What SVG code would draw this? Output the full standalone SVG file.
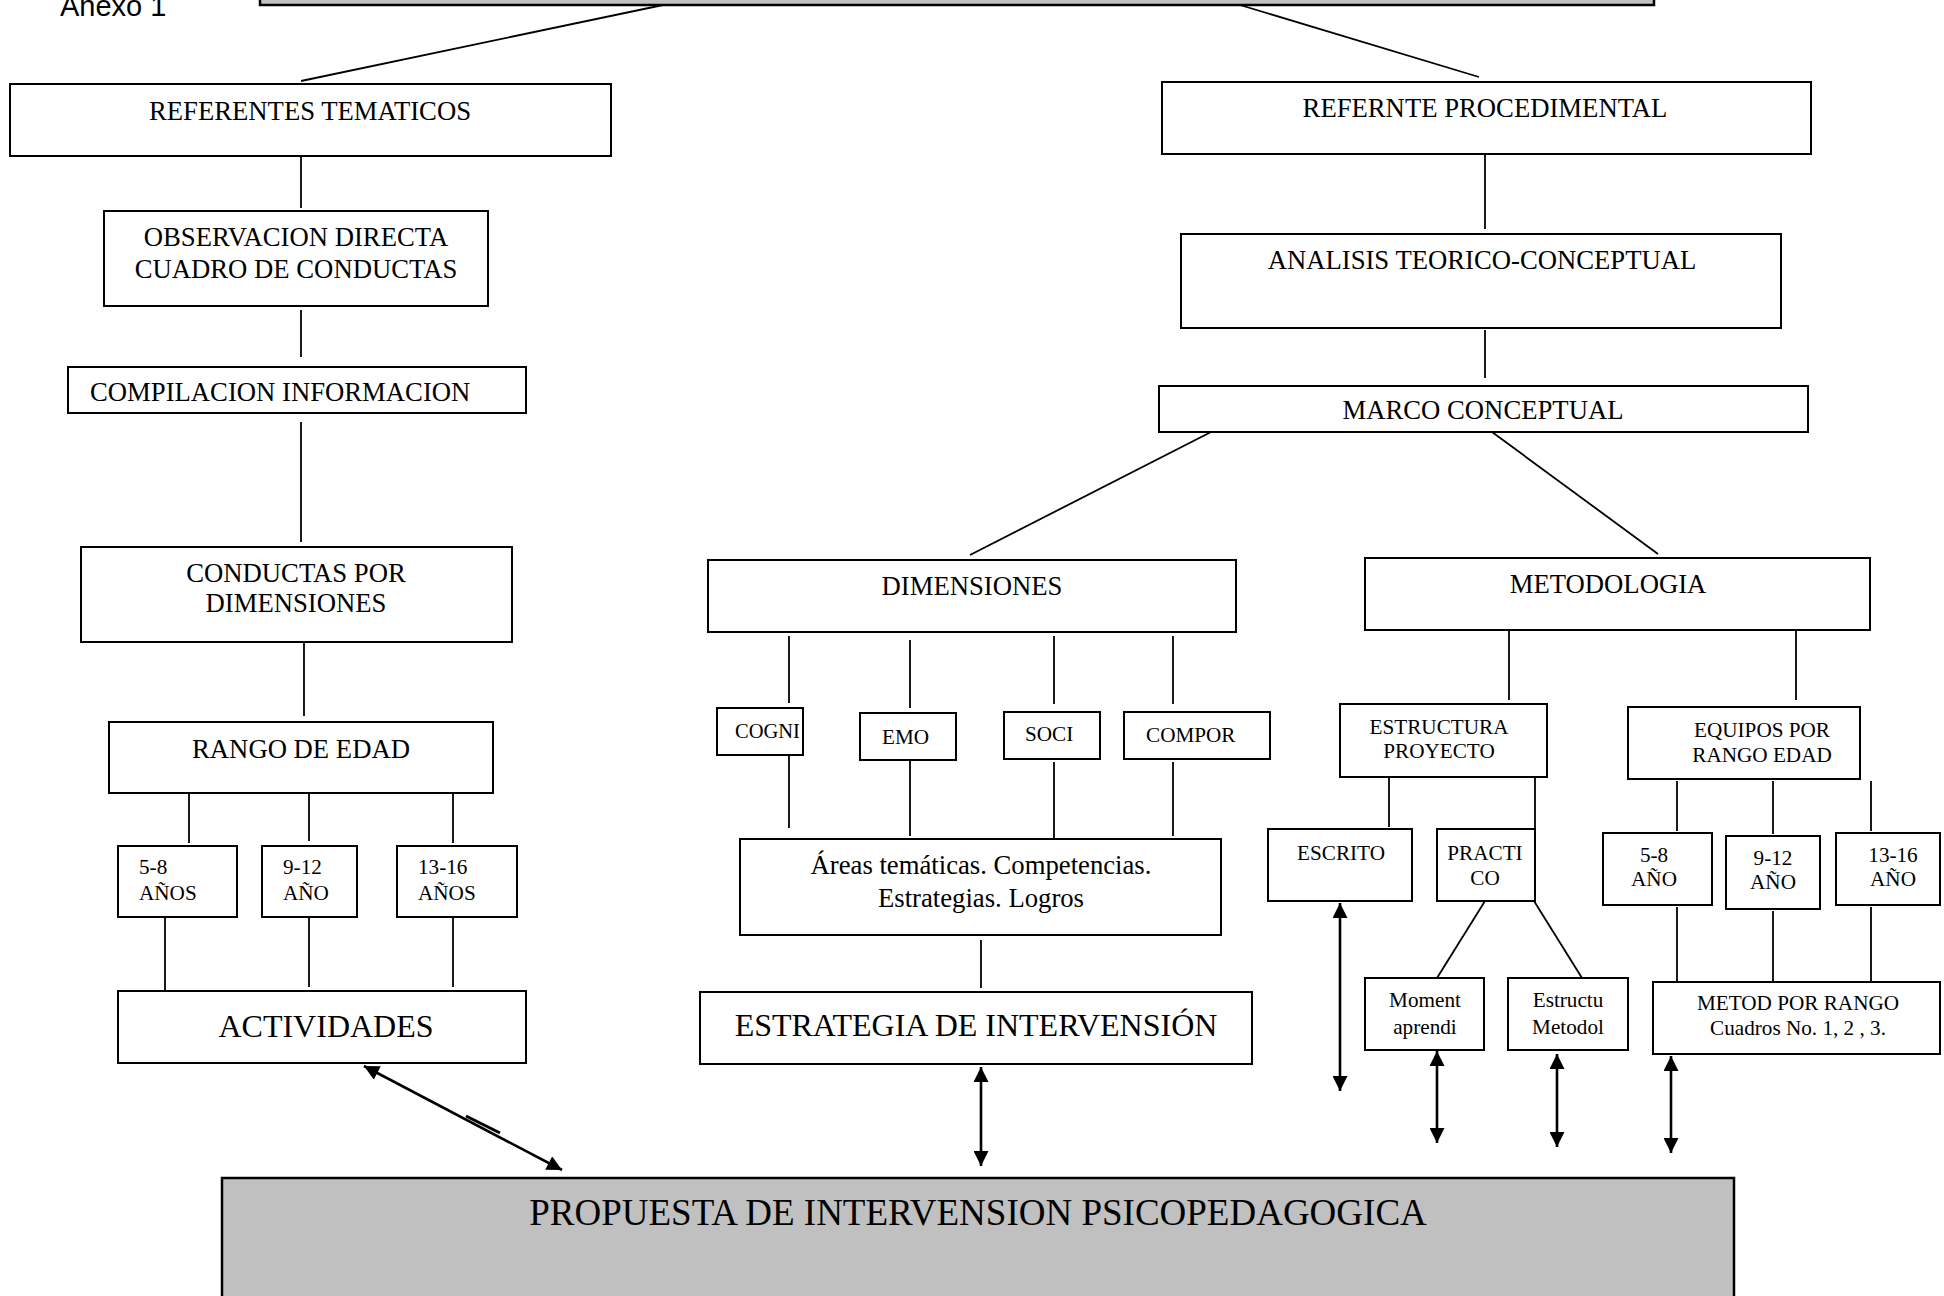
<svg xmlns="http://www.w3.org/2000/svg" width="1944" height="1296" viewBox="0 0 1944 1296">
<defs>
<style>
.b{fill:#fff;stroke:#000;stroke-width:2}
.g{fill:#c0c0c0;stroke:#000;stroke-width:2.5}
.t{font-family:"Liberation Serif","Times New Roman",serif;font-size:26.7px;fill:#000}
.s{font-family:"Liberation Serif","Times New Roman",serif;font-size:21.2px;fill:#000}
.c{text-anchor:middle}
.l{stroke:#000;stroke-width:1.8;fill:none}
.a{stroke:#000;stroke-width:2.6;fill:none;marker-start:url(#ah);marker-end:url(#ah)}
</style>
<marker id="ah" viewBox="0 0 10 10" refX="10" refY="5" markerWidth="16" markerHeight="15" markerUnits="userSpaceOnUse" orient="auto-start-reverse"><path d="M0,0 L10,5 L0,10 Z" fill="#000"/></marker>
</defs>

<text x="60" y="16" style="font-family:'Liberation Sans',Arial,sans-serif;font-size:29px">Anexo 1</text>

<g id="top"><rect class="g" x="260" y="-20" width="1394" height="25"/></g>

<g id="referentes"><rect class="b" x="10" y="84" width="601" height="72"/><text class="t c" x="310" y="120">REFERENTES TEMATICOS</text></g>
<g id="observacion"><rect class="b" x="104" y="211" width="384" height="95"/><text class="t c" x="296" y="246">OBSERVACION DIRECTA</text><text class="t c" x="296" y="278">CUADRO DE CONDUCTAS</text></g>
<g id="compilacion"><rect class="b" x="68" y="367" width="458" height="46"/><text class="t" x="90" y="401">COMPILACION INFORMACION</text></g>
<g id="conductas"><rect class="b" x="81" y="547" width="431" height="95"/><text class="t c" x="296" y="582">CONDUCTAS POR</text><text class="t c" x="296" y="612">DIMENSIONES</text></g>
<g id="rango"><rect class="b" x="109" y="722" width="384" height="71"/><text class="t c" x="301" y="758">RANGO DE EDAD</text></g>
<g id="e58"><rect class="b" x="118" y="846" width="119" height="71"/><text class="s" x="139" y="874">5-8</text><text class="s" x="139" y="900">AÑOS</text></g>
<g id="e912"><rect class="b" x="262" y="846" width="95" height="71"/><text class="s" x="283" y="874">9-12</text><text class="s" x="283" y="900">AÑO</text></g>
<g id="e1316"><rect class="b" x="397" y="846" width="120" height="71"/><text class="s" x="418" y="874">13-16</text><text class="s" x="418" y="900">AÑOS</text></g>
<g id="actividades"><rect class="b" x="118" y="991" width="408" height="72"/><text class="t c" x="326" y="1037" style="font-size:32px">ACTIVIDADES</text></g>

<g id="dimensiones"><rect class="b" x="708" y="560" width="528" height="72"/><text class="t c" x="972" y="595">DIMENSIONES</text></g>
<g id="cogni"><rect class="b" x="717" y="708" width="86" height="47"/><text class="s" x="735" y="738" style="font-size:20.5px">COGNI</text></g>
<g id="emo"><rect class="b" x="860" y="713" width="96" height="47"/><text class="s" x="882" y="744">EMO</text></g>
<g id="soci"><rect class="b" x="1004" y="712" width="96" height="47"/><text class="s" x="1025" y="741">SOCI</text></g>
<g id="compor"><rect class="b" x="1124" y="712" width="146" height="47"/><text class="s" x="1146" y="742">COMPOR</text></g>
<g id="areas"><rect class="b" x="740" y="839" width="481" height="96"/><text class="t c" x="981" y="874">Áreas temáticas. Competencias.</text><text class="t c" x="981" y="907">Estrategias. Logros</text></g>
<g id="estrategia"><rect class="b" x="700" y="992" width="552" height="72"/><text class="t c" x="976" y="1036" style="font-size:32px">ESTRATEGIA DE INTERVENSIÓN</text></g>

<g id="procedimental"><rect class="b" x="1162" y="82" width="649" height="72"/><text class="t c" x="1485" y="117">REFERNTE PROCEDIMENTAL</text></g>
<g id="analisis"><rect class="b" x="1181" y="234" width="600" height="94"/><text class="t c" x="1482" y="269">ANALISIS TEORICO-CONCEPTUAL</text></g>
<g id="marco"><rect class="b" x="1159" y="386" width="649" height="46"/><text class="t c" x="1483" y="419">MARCO CONCEPTUAL</text></g>
<g id="metodologia"><rect class="b" x="1365" y="558" width="505" height="72"/><text class="t c" x="1608" y="593">METODOLOGIA</text></g>
<g id="estructura"><rect class="b" x="1340" y="704" width="207" height="73"/><text class="s c" x="1439" y="734">ESTRUCTURA</text><text class="s c" x="1439" y="758">PROYECTO</text></g>
<g id="equipos"><rect class="b" x="1628" y="707" width="232" height="72"/><text class="s c" x="1762" y="737">EQUIPOS POR</text><text class="s c" x="1762" y="762">RANGO EDAD</text></g>
<g id="escrito"><rect class="b" x="1268" y="829" width="144" height="72"/><text class="s c" x="1341" y="860">ESCRITO</text></g>
<g id="practico"><rect class="b" x="1437" y="829" width="98" height="72"/><text class="s c" x="1485" y="860">PRACTI</text><text class="s c" x="1485" y="885">CO</text></g>
<g id="moment"><rect class="b" x="1365" y="978" width="119" height="72"/><text class="s c" x="1425" y="1007">Moment</text><text class="s c" x="1425" y="1034">aprendi</text></g>
<g id="estructu"><rect class="b" x="1508" y="978" width="120" height="72"/><text class="s c" x="1568" y="1007">Estructu</text><text class="s c" x="1568" y="1034">Metodol</text></g>
<g id="r58"><rect class="b" x="1603" y="833" width="109" height="72"/><text class="s c" x="1654" y="862">5-8</text><text class="s c" x="1654" y="886">AÑO</text></g>
<g id="r912"><rect class="b" x="1726" y="836" width="94" height="73"/><text class="s c" x="1773" y="865">9-12</text><text class="s c" x="1773" y="889">AÑO</text></g>
<g id="r1316"><rect class="b" x="1836" y="833" width="104" height="72"/><text class="s c" x="1893" y="862">13-16</text><text class="s c" x="1893" y="886">AÑO</text></g>
<g id="metod"><rect class="b" x="1653" y="982" width="287" height="72"/><text class="s c" x="1798" y="1010">METOD POR RANGO</text><text class="s c" x="1798" y="1035">Cuadros No. 1, 2 , 3.</text></g>

<g id="propuesta"><rect class="g" x="222" y="1178" width="1512" height="140"/><text class="t c" x="978" y="1225" style="font-size:37px">PROPUESTA DE INTERVENSION PSICOPEDAGOGICA</text></g>

<g id="connectors">
<line class="l" x1="663" y1="5" x2="301" y2="81"/>
<line class="l" x1="1240" y1="5" x2="1479" y2="77"/>
<line class="l" x1="301" y1="156" x2="301" y2="208"/>
<line class="l" x1="301" y1="310" x2="301" y2="357"/>
<line class="l" x1="301" y1="422" x2="301" y2="542"/>
<line class="l" x1="304" y1="642" x2="304" y2="716"/>
<line class="l" x1="189" y1="793" x2="189" y2="843"/>
<line class="l" x1="309" y1="793" x2="309" y2="841"/>
<line class="l" x1="453" y1="793" x2="453" y2="843"/>
<line class="l" x1="165" y1="917" x2="165" y2="990"/>
<line class="l" x1="309" y1="917" x2="309" y2="987"/>
<line class="l" x1="453" y1="917" x2="453" y2="987"/>
<line class="a" x1="364" y1="1066" x2="562" y2="1170"/>
<line class="l" x1="466" y1="1116" x2="500" y2="1133" style="stroke-width:3"/>

<line class="l" x1="1211" y1="432" x2="970" y2="555"/>
<line class="l" x1="789" y1="636" x2="789" y2="703"/>
<line class="l" x1="910" y1="640" x2="910" y2="708"/>
<line class="l" x1="1054" y1="636" x2="1054" y2="704"/>
<line class="l" x1="1173" y1="636" x2="1173" y2="704"/>
<line class="l" x1="789" y1="755" x2="789" y2="828"/>
<line class="l" x1="910" y1="760" x2="910" y2="836"/>
<line class="l" x1="1054" y1="762" x2="1054" y2="838"/>
<line class="l" x1="1173" y1="762" x2="1173" y2="836"/>
<line class="l" x1="981" y1="940" x2="981" y2="988"/>
<line class="a" x1="981" y1="1067" x2="981" y2="1166"/>

<line class="l" x1="1485" y1="155" x2="1485" y2="229"/>
<line class="l" x1="1485" y1="330" x2="1485" y2="378"/>
<line class="l" x1="1492" y1="432" x2="1658" y2="554"/>
<line class="l" x1="1509" y1="630" x2="1509" y2="700"/>
<line class="l" x1="1796" y1="630" x2="1796" y2="700"/>
<line class="l" x1="1389" y1="777" x2="1389" y2="827"/>
<line class="l" x1="1535" y1="777" x2="1535" y2="829"/>
<line class="l" x1="1485" y1="901" x2="1437" y2="978"/>
<line class="l" x1="1534" y1="901" x2="1582" y2="978"/>
<line class="l" x1="1677" y1="781" x2="1677" y2="831"/>
<line class="l" x1="1773" y1="781" x2="1773" y2="834"/>
<line class="l" x1="1871" y1="781" x2="1871" y2="831"/>
<line class="l" x1="1677" y1="907" x2="1677" y2="982"/>
<line class="l" x1="1773" y1="911" x2="1773" y2="982"/>
<line class="l" x1="1871" y1="907" x2="1871" y2="982"/>
<line class="a" x1="1340" y1="903" x2="1340" y2="1091"/>
<line class="a" x1="1437" y1="1051" x2="1437" y2="1143"/>
<line class="a" x1="1557" y1="1054" x2="1557" y2="1147"/>
<line class="a" x1="1671" y1="1056" x2="1671" y2="1153"/>
</g>
</svg>
